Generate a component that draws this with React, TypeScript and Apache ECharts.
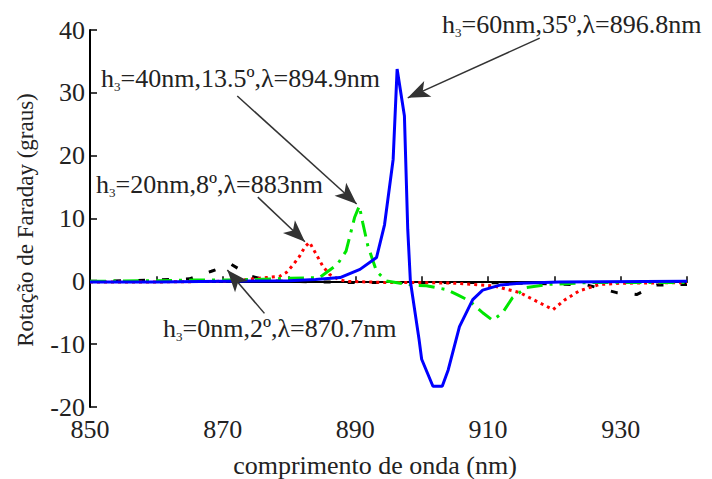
import React, { useEffect, useRef } from 'react';
import * as echarts from 'echarts';

// h3 = 0 nm (black dashed)
const h0X = [850, 855, 860, 865, 868.3, 871.3, 874.3, 877, 880, 885, 890, 895, 900, 905, 910, 915, 920, 925, 929.4, 932.4, 935.4, 940];
const h0Y = [0, 0.1, 0.2, 0.4, 1.6, 2.7, 0.8, 0.1, 0, -0.1, -0.2, -0.2, -0.2, -0.2, -0.2, -0.3, -0.4, -0.6, -1.8, -2.1, -0.6, -0.5];

// h3 = 20 nm (red dotted)
const h20X = [850, 860, 870, 873.6, 876.6, 878.6, 879.6, 880.6, 881.6, 882.4, 883.1, 884, 885.1, 886.1, 887.5, 888.6, 895, 900, 905, 910.7, 914.8, 917, 919.8, 921.5, 923.8, 926.8, 930, 940];
const h20Y = [-0.1, -0.1, 0, 0.3, 0.6, 0.8, 1.4, 2.6, 4, 5.5, 6.2, 4.5, 2.4, 1.1, 0.3, 0, -0.2, -0.2, -0.3, -0.7, -1.8, -3, -4.5, -3, -1.5, -0.5, -0.3, -0.2];

// h3 = 40 nm (green dash-dot)
const h40X = [850, 860, 865.5, 870.6, 875, 880.1, 884.6, 887.3, 888.6, 889.9, 890.6, 891.1, 891.9, 893.2, 894.7, 898.6, 900.7, 903.7, 905.5, 907.2, 909.2, 910.7, 912.2, 913.7, 915.8, 918.9, 925, 940];
const h40Y = [0, 0.1, 0.2, 0.2, 0.3, 0.5, 0.6, 2.7, 4.8, 10.2, 12, 9.4, 5.6, 1.6, 0.05, -0.6, -0.7, -1.3, -2.2, -3.1, -5, -6.2, -5, -2.6, -1, -0.5, -0.2, -0.2];

// h3 = 60 nm (blue solid)
const h60X = [850, 860, 870, 880, 884, 887.7, 890.7, 893.2, 894.4, 895.7, 896.3, 897.4, 897.9, 898.3, 899.6, 900, 901.7, 903.1, 904, 905.7, 907.7, 909.2, 911.8, 914.8, 920.8, 940];
const h60Y = [-0.1, -0.1, 0, 0.1, 0.3, 0.6, 1.9, 3.8, 9, 19.4, 33.8, 26.3, 8.3, 0, -9.2, -12.4, -16.7, -16.7, -14.1, -7.2, -2.9, -1.4, -0.6, -0.3, -0.1, 0];

// annotations: text (after "h3"), arrow start and arrow tip in data coordinates
const annTexts = ['=60nm,35º,λ=896.8nm', '=40nm,13.5º,λ=894.9nm', '=20nm,8º,λ=883nm', '=0nm,2º,λ=870.7nm'];
const annFrom = [[917.8, 38.7], [872.2, 29.5], [875.3, 13.4], [876.3, -5.1]];
const annTo = [[897.9, 29.2], [890.2, 12.3], [882.4, 6.3], [870.7, 1.8]];
const annTextPos = [[442, 9], [101, 63], [96, 169], [163, 313]];

const xTitle = 'comprimento de onda (nm)';
const yTitle = 'Rotação de Faraday (graus)';

const pairs = (xs: number[], ys: number[]) => xs.map((x, i) => [x, ys[i]]);

const FONT = "'Liberation Serif', 'Times New Roman', serif";
const TXT = '#222';

export default function App() {
  const ref = useRef<HTMLDivElement>(null);
  useEffect(() => {
    const chart = echarts.init(ref.current!, null, { renderer: 'svg' });
    const lineSeries = (name: string, xs: number[], ys: number[], color: string, dash: any, extra: any = {}) => ({
      name,
      type: 'line',
      data: pairs(xs, ys),
      showSymbol: false,
      symbol: 'none',
      silent: true,
      lineStyle: { color, width: 3, type: dash, cap: 'butt' },
      z: 3,
      ...extra,
    });
    chart.setOption({
      animation: false,
      backgroundColor: '#fff',
      grid: { left: 90, right: 25, top: 30, bottom: 72, containLabel: false },
      xAxis: {
        type: 'value',
        min: 850,
        max: 940,
        interval: 10,
        splitLine: { show: false },
        axisLine: { lineStyle: { color: '#000', width: 2 } },
        axisTick: { inside: true, length: 5, lineStyle: { color: '#000', width: 1.5 } },
        axisLabel: {
          margin: 12,
          lineHeight: 20,
          color: TXT,
          fontFamily: FONT,
          fontSize: 26,
          formatter: (v: number) => ((v - 850) % 20 === 0 && v < 940 ? String(v) : ''),
        },
      },
      yAxis: {
        type: 'value',
        min: -20,
        max: 40,
        interval: 10,
        splitLine: { show: false },
        axisLine: { lineStyle: { color: '#000', width: 2 } },
        axisTick: { inside: true, length: 7, lineStyle: { color: '#000', width: 1.5 } },
        axisLabel: { margin: 5, lineHeight: 20, color: TXT, fontFamily: FONT, fontSize: 26 },
      },
      series: [
        lineSeries('h3=0nm', h0X, h0Y, '#000', [7, 17]),
        lineSeries('h3=20nm', h20X, h20Y, '#ff0000', [3, 4]),
        lineSeries('h3=40nm', h40X, h40Y, '#00e600', [16, 7, 3, 7]),
        lineSeries('h3=60nm', h60X, h60Y, '#0000ff', 'solid', {
          markLine: {
            silent: true,
            animation: false,
            label: { show: false },
            emphasis: { disabled: true },
            lineStyle: { color: '#333', width: 1.5, type: 'solid' },
            data: annFrom.map((f, i) => [
              { coord: f, symbol: 'none' },
              { coord: annTo[i], symbol: 'arrow', symbolSize: [13, 22] },
            ]),
          },
        }),
      ],
      graphic: [
        ...annTexts.map((t, i) => ({
          type: 'text',
          x: annTextPos[i][0],
          y: annTextPos[i][1],
          silent: true,
          style: {
            text: 'h{s|3}' + t,
            fontFamily: FONT,
            fontSize: 26,
            fill: TXT,
            lineHeight: 30,
            align: 'left',
            verticalAlign: 'top',
            rich: {
              s: { fontFamily: FONT, fontSize: 13, lineHeight: 14, verticalAlign: 'bottom', fill: TXT },
            },
          },
        })),
        {
          type: 'text',
          x: 375,
          y: 465,
          silent: true,
          style: { text: xTitle, fontFamily: FONT, fontSize: 26, fill: TXT, align: 'center', verticalAlign: 'middle' },
        },
        {
          type: 'text',
          x: 25,
          y: 220,
          rotation: Math.PI / 2,
          silent: true,
          style: { text: yTitle, fontFamily: FONT, fontSize: 23, fill: TXT, align: 'center', verticalAlign: 'middle' },
        },
      ],
    });
    return () => chart.dispose();
  }, []);
  return <div ref={ref} style={{ position: 'absolute', left: 0, top: 0, width: 712, height: 479, background: '#fff' }} />;
}
